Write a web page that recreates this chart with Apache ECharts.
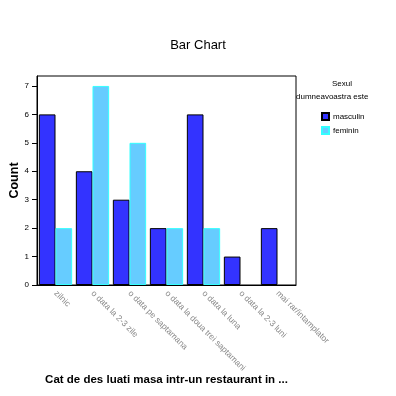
<!DOCTYPE html>
<html><head><meta charset="utf-8">
<script src="https://cdn.jsdelivr.net/npm/echarts@6/dist/echarts.min.js"></script>
<style>html,body{margin:0;padding:0;background:#fff}#c{width:396px;height:396px}</style>
</head><body><div id="c"></div>
<script>
const categories = ["zilnic", "o data la 2-3 zile", "o data pe saptamana", "o data la doua trei saptamani", "o data la luna", "o data la 2-3 luni", "mai rar/intamplator"];
const masculin = [6, 4, 3, 2, 6, 1, 2];
const feminin = [2, 7, 5, 2, 2, 0, 0];
const yTicks = [0, 1, 2, 3, 4, 5, 6, 7];
const seriesNames = ["masculin", "feminin"];

function toData(arr) {
  return arr.map(v => v === 0 ? {value: v, itemStyle: {borderWidth: 0, opacity: 0}} : v);
}

const chart = echarts.init(document.getElementById('c'), null, {renderer: 'canvas'});
chart.setOption({
  animation: false,
  backgroundColor: '#fff',
  title: {text: 'Bar Chart', left: 'center', top: 34, textStyle: {fontFamily: 'Liberation Sans', fontSize: 13, fontWeight: 'normal', color: '#000'}},
  grid: {left: 37, right: 100, top: 76, bottom: 111, show: true, borderColor: '#000', borderWidth: 1, backgroundColor: 'transparent', outerBoundsMode: 'none', containLabel: false},
  legend: {
    data: seriesNames, orient: 'vertical', left: 316, top: 107, itemWidth: 7, itemHeight: 7, itemGap: 5, icon: 'rect',
    textStyle: {fontFamily: 'Liberation Sans', fontSize: 8, color: '#000', padding: [0, 0, 0, -1]}
  },
  graphic: [
    {type: 'text', left: 332, top: 80, style: {text: 'Sexul', fontFamily: 'Liberation Sans', fontSize: 8, fill: '#000'}},
    {type: 'text', left: 296, top: 93, style: {text: 'dumneavoastra este', fontFamily: 'Liberation Sans', fontSize: 8, fill: '#000'}}
  ],
  xAxis: {
    type: 'category', data: categories, boundaryGap: true,
    name: 'Cat de des luati masa intr-un restaurant in ...', nameLocation: 'middle', nameGap: 89, nameMoveOverlap: false,
    nameTextStyle: {fontFamily: 'Liberation Sans', fontSize: 11.5, fontWeight: 'bold', color: '#000'},
    axisLine: {lineStyle: {color: '#000', width: 1}},
    axisTick: {alignWithLabel: true, length: 5, lineStyle: {color: '#000'}},
    axisLabel: {rotate: -45, fontFamily: 'Liberation Sans', fontSize: 8.5, color: '#888', margin: 7, interval: 0}
  },
  yAxis: {
    type: 'value', min: 0, max: 7.35, interval: 1,
    name: 'Count', nameLocation: 'middle', nameGap: 16, nameMoveOverlap: false,
    nameTextStyle: {fontFamily: 'Liberation Sans', fontSize: 12.5, fontWeight: 'bold', color: '#000'},
    axisLine: {show: true, lineStyle: {color: '#000', width: 1}},
    axisTick: {show: true, length: 5, lineStyle: {color: '#000'}, customValues: yTicks},
    axisLabel: {fontFamily: 'Liberation Sans', fontSize: 8, color: '#000', margin: 8, customValues: yTicks},
    splitLine: {show: false}
  },
  series: [
    {name: seriesNames[0], type: 'bar', data: toData(masculin), barGap: '0%', barCategoryGap: '10%',
     itemStyle: {color: '#3333ff', borderColor: '#000', borderWidth: 1, borderRadius: 0}},
    {name: seriesNames[1], type: 'bar', data: toData(feminin),
     itemStyle: {color: '#66ccff', borderColor: '#33ffff', borderWidth: 1, borderRadius: 0}}
  ]
});
</script></body></html>
